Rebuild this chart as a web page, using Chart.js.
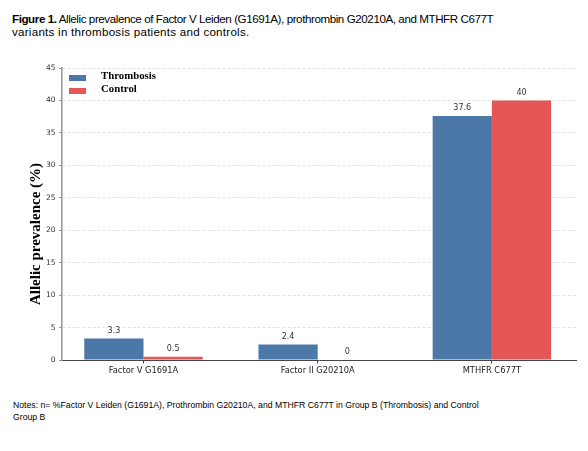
<!DOCTYPE html>
<html>
<head>
<meta charset="utf-8">
<script src="https://cdn.jsdelivr.net/npm/chart.js@4.4.1/dist/chart.umd.min.js"></script>
<style>
  body { margin: 0; background: #fff; width: 588px; height: 451px; position: relative; overflow: hidden; }
  .caption { position: absolute; left: 12px; top: 12px; white-space: nowrap; font-family: "Liberation Sans", Arial, sans-serif; font-size: 11.6px; line-height: 13px; color: #000; }
  .caption .l1 { letter-spacing: -0.42px; }
  .caption .l2 { letter-spacing: 0.25px; }
  .notes { position: absolute; left: 13px; top: 399px; width: 466px; font-family: "Liberation Sans", Arial, sans-serif; font-size: 8.7px; line-height: 12px; color: #000; }
  #wrap { position: absolute; left: 0; top: 50px; width: 588px; height: 330px; }
</style>
</head>
<body>
<div class="caption"><span class="l1"><b>Figure 1.</b> Allelic prevalence of Factor V Leiden (G1691A), prothrombin G20210A, and MTHFR C677T</span><br><span class="l2">variants in thrombosis patients and controls.</span></div>
<div id="wrap"><canvas id="prevChart"></canvas></div>
<div class="notes">Notes: n= %Factor V Leiden (G1691A), Prothrombin G20210A, and MTHFR C677T in Group B (Thrombosis) and Control Group B</div>

<script>
// ====== Datos ======
const categories = ["Factor V G1691A", "Factor II G20210A", "MTHFR C677T"];
const thrombosis = [3.3, 2.4, 37.6];
const control = [0.5, 0, 40];
const yTicks = [0, 5, 10, 15, 20, 25, 30, 35, 40, 45];

const BLUE = "#4c78a8";
const RED = "#e45756";

// posicion de cada categoria en el eje x (0, 1, 2)
const toPoints = (arr) => arr.map((v, i) => ({ x: i, y: v }));

// etiquetas de valor encima de cada barra
const valueLabels = {
  id: "valueLabels",
  afterDatasetsDraw(chart) {
    const ctx = chart.ctx;
    ctx.save();
    ctx.font = "8px 'DejaVu Sans'";
    ctx.fillStyle = "#333";
    ctx.textAlign = "center";
    ctx.textBaseline = "bottom";
    chart.data.datasets.forEach((ds, i) => {
      chart.getDatasetMeta(i).data.forEach((bar, j) => {
        ctx.fillText(String(ds.data[j].y), bar.x, bar.y - 4);
      });
    });
    ctx.restore();
  }
};

// leyenda dentro del area del grafico
const innerLegend = {
  id: "innerLegend",
  afterDraw(chart) {
    const ctx = chart.ctx;
    const a = chart.chartArea;
    ctx.save();
    ctx.font = "bold 10.8px 'Liberation Serif'";
    ctx.textBaseline = "middle";
    chart.data.datasets.forEach((ds, i) => {
      const y = a.top + 7 + i * 13;
      ctx.fillStyle = ds.backgroundColor;
      ctx.fillRect(a.left + 7, y, 17, 6);
      ctx.fillStyle = "#000";
      ctx.fillText(ds.label, a.left + 39, y + 1.5);
    });
    ctx.restore();
  }
};

// titulo del eje Y
const yTitle = {
  id: "yTitle",
  afterDraw(chart) {
    const ctx = chart.ctx;
    ctx.save();
    ctx.translate(36.5, 184);
    ctx.rotate(-Math.PI / 2);
    ctx.font = "bold 15px 'Liberation Serif'";
    ctx.fillStyle = "#000";
    ctx.textAlign = "center";
    ctx.textBaseline = "middle";
    ctx.fillText("Allelic prevalence (%)", 0, 0);
    ctx.restore();
  }
};

new Chart(document.getElementById("prevChart"), {
  type: "bar",
  data: {
    datasets: [
      { label: "Thrombosis", data: toPoints(thrombosis), backgroundColor: BLUE, borderWidth: 0 },
      { label: "Control", data: toPoints(control), backgroundColor: RED, borderWidth: 0 }
    ]
  },
  options: {
    responsive: true,
    maintainAspectRatio: false,
    animation: false,
    datasets: { bar: { categoryPercentage: 0.68, barPercentage: 1.0 } },
    layout: { padding: { left: 0, right: 12, top: 18, bottom: 0 } },
    plugins: { legend: { display: false }, tooltip: { enabled: false } },
    scales: {
      x: {
        type: "linear",
        min: -0.468,
        max: 2.483,
        offset: false,
        afterFit: (s) => { s.height = 20; },
        afterBuildTicks: (s) => { s.ticks = categories.map((c, i) => ({ value: i })); },
        grid: { display: true, offset: false, drawOnChartArea: false, drawTicks: true, tickLength: 3.5, tickColor: "#444" },
        border: { color: "#444", width: 1 },
        ticks: {
          font: { family: "DejaVu Sans", size: 8.3 },
          color: "#222",
          padding: 2,
          callback: (v) => categories[v]
        }
      },
      y: {
        min: 0,
        max: 45,
        afterFit: (s) => { s.width = 62; },
        afterBuildTicks: (s) => { s.ticks = yTicks.map(v => ({ value: v })); },
        grid: {
          color: (c) => (c.tick && c.tick.value === 0 ? "rgba(0,0,0,0)" : "#dcdcdc"),
          lineWidth: 0.8,
          tickLength: 3,
          tickColor: "#777"
        },
        border: { color: "#999", width: 1.6, dash: [3, 2] },
        ticks: { font: { family: "DejaVu Sans", size: 7.5 }, color: "#333", padding: 3.5 }
      }
    }
  },
  plugins: [valueLabels, innerLegend, yTitle]
});
</script>
</body>
</html>
